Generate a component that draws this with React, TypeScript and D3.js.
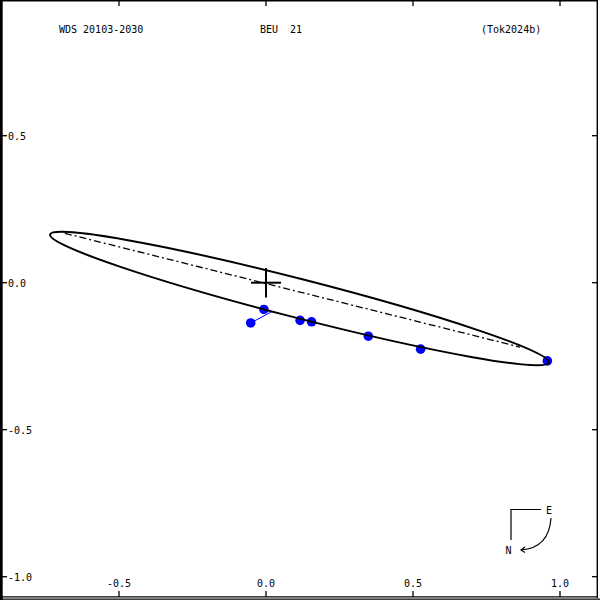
import * as React from 'react';
import { scaleLinear, line, path as d3path } from 'd3';

// header texts
const titleLeft = 'WDS 20103-2030';
const titleMid = 'BEU  21';
const titleRight = '(Tok2024b)';

// axis ticks (arcsec)
const xTicks = [-0.5, 0.0, 0.5, 1.0];
const yTicks = [0.5, 0.0, -0.5, -1.0];

// apparent orbit ellipse (arcsec, degrees)
const orbitCenter = [0.114, -0.054];
const orbitSemiMajor = 0.876;
const orbitSemiMinor = 0.066;
const orbitTilt = -14.4;

// line of nodes end points
const nodeLine: [number, number][] = [
    [-0.684, 0.168],
    [0.864, -0.219],
];

// measures and their computed positions
const obsX = [-0.052, -0.007, 0.116, 0.155, 0.348, 0.526, 0.957];
const obsY = [-0.137, -0.091, -0.128, -0.133, -0.182, -0.226, -0.266];
const calcX = [0.019, -0.004, 0.117, 0.156, 0.349, 0.527, 0.955];
const calcY = [-0.099, -0.094, -0.126, -0.134, -0.180, -0.224, -0.268];

const W = 600;
const H = 600;
const font = '"DejaVu Sans Mono", monospace';

const x = scaleLinear().domain([-1, 1]).range([266 - 294, 266 + 294]);
const y = scaleLinear().domain([-1, 1]).range([282.7 + 294, 282.7 - 294]);

export default function App() {
    const nodePath = line<[number, number]>()
        .x((d) => x(d[0]))
        .y((d) => y(d[1]))(nodeLine);

    const cx = x(orbitCenter[0]);
    const cy = y(orbitCenter[1]);
    const rx = x(orbitSemiMajor) - x(0);
    const ry = x(orbitSemiMinor) - x(0);

    // compass arrow E -> N
    const arrow = d3path();
    arrow.moveTo(551, 518);
    arrow.quadraticCurveTo(549, 548, 521, 550);

    return (
        <svg width={W} height={H} style={{ position: 'absolute', left: 0, top: 0, background: '#fff' }}>
            {/* frame */}
            <g stroke="#000" fill="none">
                <line x1={1.35} y1={0} x2={1.35} y2={H} strokeWidth={2.7} />
                <line x1={0} y1={0.7} x2={598} y2={0.7} strokeWidth={1.4} />
                <line x1={597.3} y1={0} x2={597.3} y2={598} strokeWidth={1.4} />
                <line x1={0} y1={596.8} x2={598} y2={596.8} strokeWidth={1.3} />
                <line x1={0} y1={599.2} x2={W} y2={599.2} strokeWidth={1.3} />
            </g>

            {/* ticks */}
            <g stroke="#000" strokeWidth={1.3}>
                {xTicks.map((t) => (
                    <g key={'xt' + t}>
                        <line x1={x(t)} x2={x(t)} y1={591} y2={597} />
                        <line x1={x(t)} x2={x(t)} y1={0} y2={6} />
                    </g>
                ))}
                {yTicks.map((t) => (
                    <g key={'yt' + t}>
                        <line x1={2} x2={7} y1={y(t)} y2={y(t)} />
                        <line x1={592} x2={597} y1={y(t)} y2={y(t)} />
                    </g>
                ))}
            </g>

            {/* tick labels */}
            <g fontFamily={font} fontSize={10} fill="#000">
                {xTicks.map((t) => (
                    <text key={'xl' + t} x={x(t)} y={587} textAnchor="middle">
                        {t.toFixed(1)}
                    </text>
                ))}
                {yTicks.map((t) => (
                    <text key={'yl' + t} x={8} y={y(t) + 4} textAnchor="start">
                        {t.toFixed(1)}
                    </text>
                ))}
            </g>

            {/* header */}
            <g fontFamily={font} fontSize={10} fill="#000">
                <text x={59} y={33}>{titleLeft}</text>
                <text x={260} y={33} style={{ whiteSpace: 'pre' }} xmlSpace="preserve">{titleMid}</text>
                <text x={481} y={33}>{titleRight}</text>
            </g>

            {/* O-C lines and measures */}
            <g stroke="#0000ff" strokeWidth={1}>
                {obsX.map((ox, i) => (
                    <line key={'oc' + i} x1={x(ox)} y1={y(obsY[i])} x2={x(calcX[i])} y2={y(calcY[i])} />
                ))}
            </g>
            <g fill="#0000ff">
                {obsX.map((ox, i) => (
                    <circle key={'ob' + i} cx={x(ox)} cy={y(obsY[i])} r={4.8} />
                ))}
            </g>

            {/* line of nodes */}
            <path d={nodePath ?? ''} fill="none" stroke="#000" strokeWidth={1.3} strokeDasharray="7,3,2,3" />

            {/* orbit */}
            <ellipse
                cx={cx}
                cy={cy}
                rx={rx}
                ry={ry}
                fill="none"
                stroke="#000"
                strokeWidth={2}
                transform={`rotate(${-orbitTilt} ${cx} ${cy})`}
            />

            {/* primary */}
            <g stroke="#000" strokeWidth={2}>
                <line x1={x(-0.051)} x2={x(0.051)} y1={y(0)} y2={y(0)} />
                <line x1={x(0)} x2={x(0)} y1={y(0.05)} y2={y(-0.05)} />
            </g>

            {/* compass */}
            <g stroke="#000" strokeWidth={1.2} fill="none">
                <polyline points="541,509.5 511,509.5 511,540" />
                <path d={arrow.toString()} />
                <polyline points="525,547 521,550 525,552.5" />
            </g>
            <g fontFamily={font} fontSize={10} fill="#000">
                <text x={546} y={513.5}>E</text>
                <text x={505.5} y={554}>N</text>
            </g>
        </svg>
    );
}
